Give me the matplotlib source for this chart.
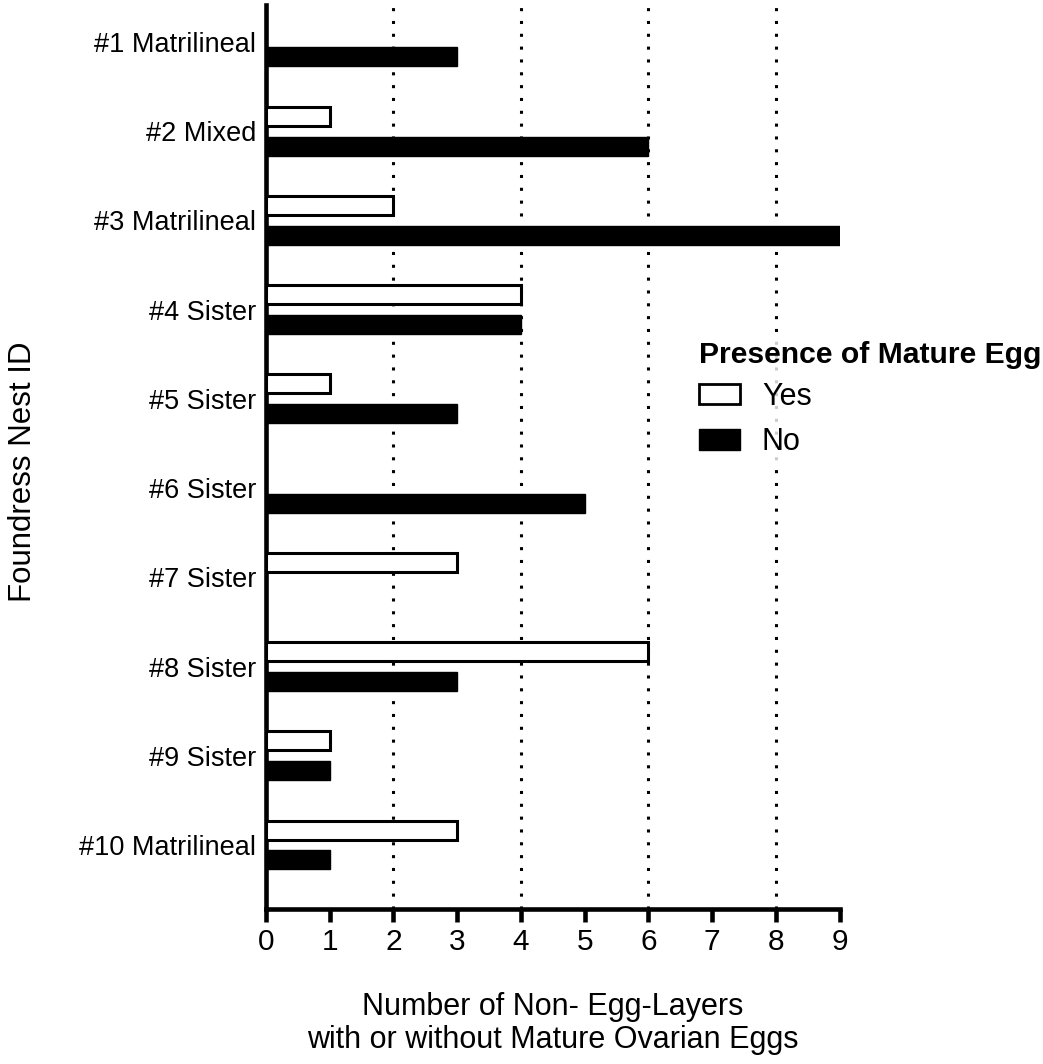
import matplotlib.pyplot as plt
import numpy as np
from matplotlib.patches import Patch

plt.rcParams['font.family'] = ['Liberation Sans', 'DejaVu Sans']

nests = ["#1 Matrilineal", "#2 Mixed", "#3 Matrilineal", "#4 Sister", "#5 Sister",
         "#6 Sister", "#7 Sister", "#8 Sister", "#9 Sister", "#10 Matrilineal"]
yes_counts = [0, 1, 2, 4, 1, 0, 3, 6, 1, 3]
no_counts = [3, 6, 9, 4, 3, 5, 0, 3, 1, 1]
x_ticks = [0, 1, 2, 3, 4, 5, 6, 7, 8, 9]
grid_x = [2, 4, 6, 8]

fig = plt.figure(figsize=(10.43, 10.64), dpi=100)
ax = fig.add_axes([0.255, 0.1457, 0.550, 0.8496])

y = np.arange(len(nests))
off = 0.168
h = 0.213

ax.barh(y - off, yes_counts, height=h, color='white', edgecolor='black',
        linewidth=2.2, zorder=3)
ax.barh(y + off, no_counts, height=h, color='black', edgecolor='black',
        linewidth=1, zorder=3)

for gx in grid_x:
    ax.axvline(gx, color='black', linewidth=2.2, linestyle=(0, (1, 3.2)),
               zorder=1)

ax.set_xlim(0, 9)
ax.set_ylim(9.717, -0.414)
ax.set_xticks(x_ticks)
ax.set_xticklabels([str(t) for t in x_ticks])
ax.set_yticks(y)
ax.set_yticklabels(nests)
ax.tick_params(axis='y', length=0, pad=7, labelsize=19.5)
ax.tick_params(axis='x', length=9, width=3.3, direction='out', pad=5,
               labelsize=21.5)

for side in ('top', 'right'):
    ax.spines[side].set_visible(False)
for side in ('left', 'bottom'):
    ax.spines[side].set_linewidth(3.3)
    ax.spines[side].set_capstyle('projecting')

fig.text(0.530, 0.038, "Number of Non- Egg-Layers\nwith or without Mature Ovarian Eggs",
         ha='center', va='center', fontsize=22, linespacing=1.12)
fig.text(0.022, 0.557, "Foundress Nest ID", rotation=90, ha='center',
         va='center', fontsize=22.5)

handles = [Patch(facecolor='white', edgecolor='black', linewidth=2, label='Yes'),
           Patch(facecolor='black', edgecolor='black', linewidth=1, label='No')]
leg = fig.legend(handles=handles, title="Presence of Mature Egg",
                 loc='upper left', bbox_to_anchor=(0.664, 0.685),
                 frameon=True, fontsize=22, handlelength=1.35, handleheight=0.65,
                 handletextpad=0.72, labelspacing=0.5, alignment='left',
                 borderpad=0.2, borderaxespad=0)
leg.get_frame().set_edgecolor('none')
leg.get_frame().set_facecolor('white')
leg.get_title().set_fontweight('bold')
leg.get_title().set_fontsize(21.7)
leg._legend_box.sep = 9

fig.savefig('out.png', dpi=100)
